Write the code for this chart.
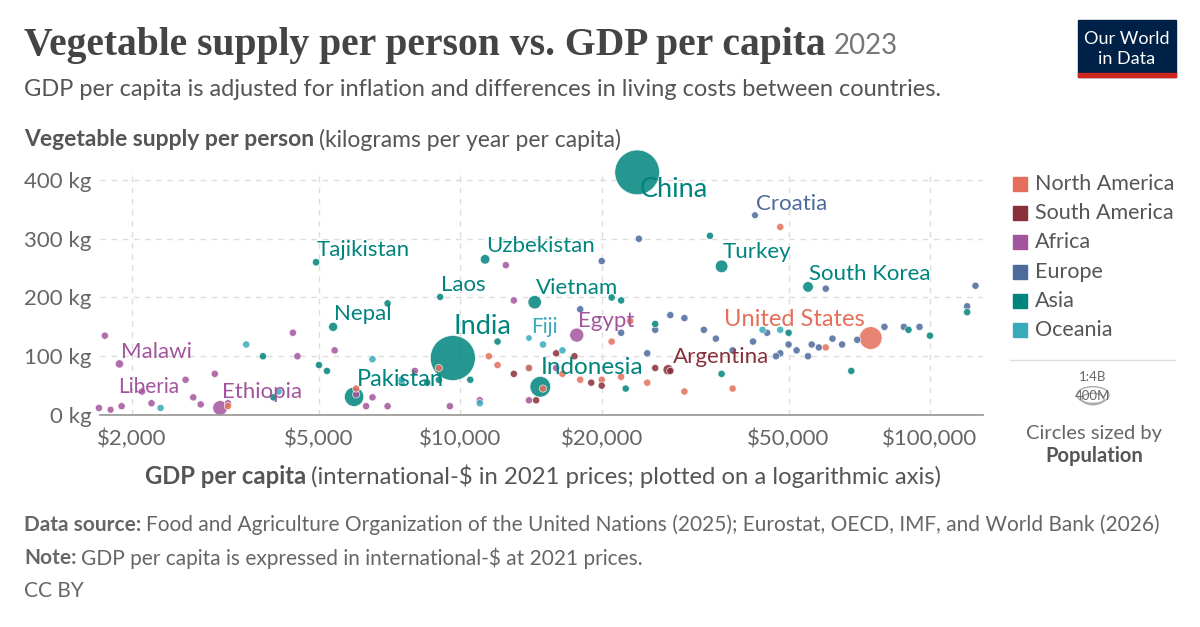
import numpy as np, pandas as pd, seaborn as sns, matplotlib
matplotlib.use("Agg")
import matplotlib.pyplot as plt
from matplotlib.patches import Rectangle, Circle

sns.set_theme(style="white")
plt.rcParams['font.family'] = ['Lato', 'DejaVu Sans']

regions = ["North America", "South America", "Africa", "Europe", "Asia", "Oceania"]
colors = ["#E56E5A", "#883039", "#A2559C", "#4C6A9C", "#00847E", "#38AABA"]

lab_names = ["China", "India", "Croatia", "Tajikistan", "Uzbekistan", "Turkey", "South Korea", "Laos",
             "Vietnam", "Nepal", "Fiji", "Egypt", "United States", "Malawi", "Argentina", "Indonesia",
             "Pakistan", "Liberia", "Ethiopia"]
lab_region = ["Asia", "Asia", "Europe", "Asia", "Asia", "Asia", "Asia", "Asia", "Asia", "Asia", "Oceania",
              "Africa", "North America", "Africa", "South America", "Asia", "Asia", "Africa", "Africa"]
lab_gdp = [23800, 9640, 42400, 4930, 11290, 36000, 55000, 9060, 14400, 5360, 14000, 17700, 74800, 1880,
           27700, 14800, 5940, 1800, 3080]
lab_veg = [413, 97, 340, 260, 265, 253, 218, 201, 192, 150, 131, 136, 131, 87, 77, 48, 31, 9, 12]
lab_pop = [1410, 1430, 4, 10, 36, 85, 51, 7, 100, 30, 1, 112, 340, 20, 46, 277, 240, 5, 126]
lab_text_xy = [(640, 190), (453, 327), (756, 204), (317, 250), (486, 246), (723, 252), (809, 274),
               (441, 285), (536, 288), (334, 314), (531, 327), (578, 321), (724, 319), (121, 352),
               (673, 357), (541, 368), (357, 379), (118, 387), (222, 392)]
lab_fs = [19.5, 19.5, 16, 16, 16, 16, 16, 16, 16, 16, 15, 16, 17, 16, 16, 17.5, 17, 15, 16]

eu_gdp = [24000, 20000, 95000, 120000, 125000, 60000, 45000, 50000, 52000, 55000, 58000, 42000, 38000, 35000,
          48000, 65000, 70000, 80000, 88000, 30000, 28000, 26000, 22000, 33000, 47000, 56000, 62000, 18000, 25000]
eu_veg = [300, 262, 150, 185, 220, 215, 140, 120, 110, 100, 115, 125, 110, 130, 105, 120, 128, 150, 150,
          165, 170, 145, 140, 145, 100, 120, 130, 180, 105]
as_gdp = [12000, 14000, 9000, 10500, 7000, 5000, 4000, 22500, 34000, 21000, 22000, 36000, 90000, 120000,
          100000, 50000, 68000, 7500, 3800, 26000, 8500, 5200]
as_veg = [125, 80, 60, 60, 190, 85, 30, 45, 305, 200, 195, 70, 145, 175, 135, 140, 75, 55, 100, 155, 55, 75]
af_gdp = [1750, 2600, 3000, 2700, 2200, 1900, 5400, 6500, 6000, 4500, 7000, 6300, 3200, 8000, 9500, 11000,
          14000, 16000, 2100, 12500, 13000, 4400, 1700, 2800]
af_veg = [135, 60, 70, 30, 20, 15, 110, 30, 35, 100, 15, 15, 20, 75, 15, 25, 25, 80, 40, 255, 195, 140, 12, 18]
na_gdp = [3200, 6000, 11500, 12000, 15000, 16500, 18000, 20000, 22000, 23000, 25000, 30000, 38000, 48000,
          60000, 9000, 14000, 21000]
na_veg = [15, 45, 100, 85, 45, 70, 60, 60, 65, 160, 55, 40, 45, 320, 115, 80, 80, 125]
sa_gdp = [19000, 20000, 28000, 14500, 17500, 26000, 13000, 16000]
sa_veg = [55, 50, 75, 25, 100, 80, 70, 105]
oc_gdp = [2300, 3500, 6500, 7500, 4100, 11000, 15000, 44000, 48000, 16500]
oc_veg = [12, 120, 95, 60, 40, 20, 120, 145, 145, 110]

rows = []
for n, r, g, v, p in zip(lab_names, lab_region, lab_gdp, lab_veg, lab_pop):
    rows.append((n, r, g, v, p))
for r, gs, vs in [("Europe", eu_gdp, eu_veg), ("Asia", as_gdp, as_veg), ("Africa", af_gdp, af_veg),
                  ("North America", na_gdp, na_veg), ("South America", sa_gdp, sa_veg), ("Oceania", oc_gdp, oc_veg)]:
    for g, v in zip(gs, vs):
        rows.append(("", r, g, v, 8))
df = pd.DataFrame(rows, columns=["country", "region", "gdp", "veg", "pop"])
df = df.sort_values("pop", ascending=False)

fig = plt.figure(figsize=(12, 6.27), dpi=100)
ax = fig.add_axes([100/1200, 1-415/627, 883/1200, 245/627])
sns.scatterplot(data=df, x="gdp", y="veg", hue="region", hue_order=regions, palette=colors,
                size="pop", sizes=(22, 1050), size_norm=(1, 1430), alpha=0.85,
                edgecolor="white", linewidth=0.5, legend=False, ax=ax, clip_on=False)
ax.set_xscale("log")
ax.set_xlim(1709, 129700)
ax.set_ylim(0, 417)
xt = [2000, 5000, 10000, 20000, 50000, 100000]
ax.set_xticks(xt)
ax.set_xticklabels(["$2,000", "$5,000", "$10,000", "$20,000", "$50,000", "$100,000"])
ax.xaxis.set_minor_locator(matplotlib.ticker.NullLocator())
yt = [0, 100, 200, 300, 400]
ax.set_yticks(yt)
ax.set_yticklabels([f"{v} kg" for v in yt])
ax.tick_params(axis="both", labelsize=16, colors="#666666", length=0, pad=6)
ax.tick_params(axis="x", length=4, color="#999999")
for s in ["top", "right", "left"]:
    ax.spines[s].set_visible(False)
ax.spines["bottom"].set_color("#999999")
ax.grid(True, linestyle=(0, (4, 4)), color="#dddddd", linewidth=1)
ax.set_axisbelow(True)
ax.set_xlabel(""); ax.set_ylabel("")

cmap = dict(zip(regions, colors))
for n, r, (tx, ty), fs in zip(lab_names, lab_region, lab_text_xy, lab_fs):
    fig.text(tx/1200, 1-ty/627, n, fontsize=fs, color=cmap[r], va="center", ha="left")

fig.canvas.draw()
rend = fig.canvas.get_renderer()

def chain(x, y, parts, **kw):
    for txt, w, fs, col, fam in parts:
        extra = {"family": fam} if fam else {}
        t = fig.text(x/1200, 1-y/627, txt, fontsize=fs, weight=w, color=col, va="center", **extra)
        bb = t.get_window_extent(renderer=rend)
        x = x + bb.width + fs*0.3

chain(24, 46, [("Vegetable supply per person vs. GDP per capita", "bold", 28.5, "#444444",
                ["Liberation Serif", "DejaVu Serif"]), ("2023", "normal", 20, "#777777", None)])
fig.text(24/1200, 1-89/627, "GDP per capita is adjusted for inflation and differences in living costs between countries.",
         fontsize=17, color="#555555", va="center")
chain(24, 140, [("Vegetable supply per person", "bold", 16.5, "#555555", None),
                ("(kilograms per year per capita)", "normal", 16.5, "#555555", None)])
chain(145, 476, [("GDP per capita", "bold", 17.2, "#555555", None),
                 ("(international-$ in 2021 prices; plotted on a logarithmic axis)", "normal", 17.2, "#555555", None)])

for i, (r, c) in enumerate(zip(regions, colors)):
    y = 184 + i*29.2
    fig.patches.append(Rectangle((1013/1200, 1-(y+7)/627), 14/1200, 14/627, transform=fig.transFigure,
                                 color=c, figure=fig))
    fig.text(1035/1200, 1-y/627, r, fontsize=15.5, color="#555555", va="center")
fig.add_artist(matplotlib.lines.Line2D([1010/1200, 1175/1200], [1-360/627]*2, color="#dddddd", lw=1))
fig.add_artist(Circle((1093/1200, 1-395/627), 16/1200, transform=fig.transFigure, fill=False, ec="#aaaaaa", lw=1))
fig.add_artist(Circle((1093/1200, 1-399/627), 11/1200, transform=fig.transFigure, fill=False, ec="#aaaaaa", lw=1))
fig.text(1093/1200, 1-377/627, "1:4B", fontsize=9.5, color="#666666", ha="center", va="center")
fig.text(1093/1200, 1-396/627, "400M", fontsize=9.5, color="#666666", ha="center", va="center")
fig.text(1094/1200, 1-433/627, "Circles sized by", fontsize=14.5, color="#666666", ha="center", va="center")
fig.text(1094/1200, 1-456/627, "Population", fontsize=14.5, weight="bold", color="#555555", ha="center", va="center")

fig.patches.append(Rectangle((1078/1200, 1-77/627), 98/1200, 57/627, transform=fig.transFigure,
                             color="#002147", figure=fig))
fig.patches.append(Rectangle((1078/1200, 1-77/627), 98/1200, 4/627, transform=fig.transFigure,
                             color="#CE261E", figure=fig))
fig.text(1127/1200, 1-39/627, "Our World", fontsize=13, color="white", ha="center", va="center")
fig.text(1127/1200, 1-59/627, "in Data", fontsize=13, color="white", ha="center", va="center")

chain(24, 525, [("Data source:", "bold", 15, "#666666", None),
                ("Food and Agriculture Organization of the United Nations (2025); Eurostat, OECD, IMF, and World Bank (2026)",
                 "normal", 15, "#666666", None)])
chain(24, 558, [("Note:", "bold", 15, "#666666", None),
                ("GDP per capita is expressed in international-$ at 2021 prices.", "normal", 15, "#666666", None)])
fig.text(24/1200, 1-591/627, "CC BY", fontsize=15, color="#666666", va="center")

fig.savefig("out.png", dpi=100, facecolor="white")
